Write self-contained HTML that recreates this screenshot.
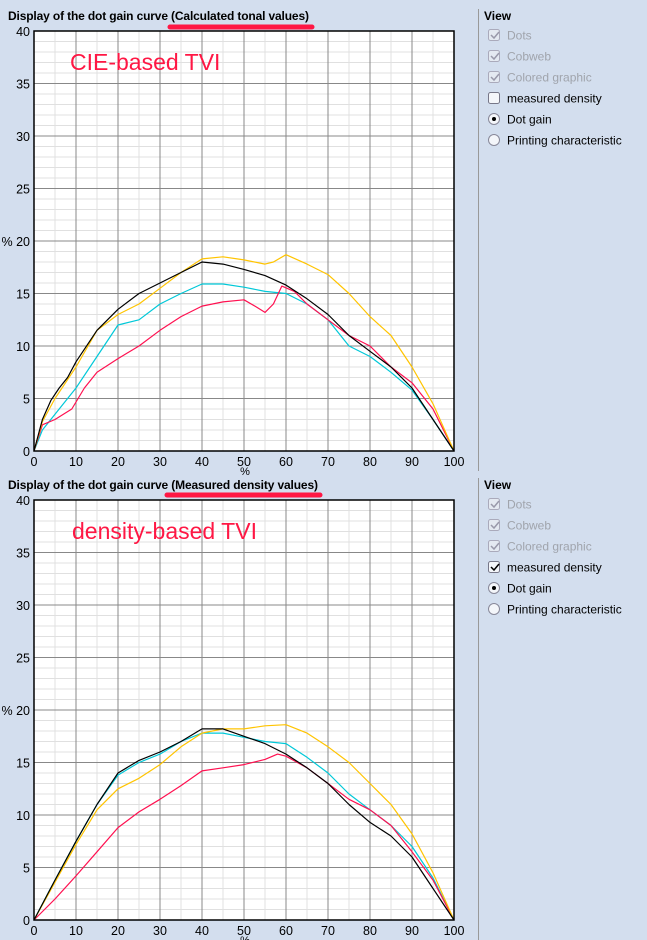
<!DOCTYPE html>
<html><head><meta charset="utf-8"><style>
body{margin:0;width:647px;height:940px;background:#d3deee;overflow:hidden;font-family:"Liberation Sans",Arial,sans-serif;}
svg{position:absolute;left:0;top:0}
</style></head><body>
<svg id="s" width="647" height="940" xmlns="http://www.w3.org/2000/svg" font-family="Liberation Sans, Arial, sans-serif"></svg>
<script>
const S=document.getElementById('s');
let h='';
function chart(top,title,tl,label,curves,checked){
  const L=34,R=454,T=top,B=top+420;
  h+=`<text x="8" y="${T-11}" font-size="12" font-weight="bold" fill="#000" textLength="${tl}">${title}</text>`;
  h+=`<rect x="${L}" y="${T}" width="420" height="420" fill="#fff"/>`;
  for(let i=1;i<40;i++){if(i%5)h+=`<line x1="${L}" x2="${R}" y1="${T+i*10.5}" y2="${T+i*10.5}" stroke="#e0e0e0"/>`;}
  for(let i=1;i<20;i++){if(i%2)h+=`<line y1="${T}" y2="${B}" x1="${L+i*21}" x2="${L+i*21}" stroke="#e0e0e0"/>`;}
  for(let i=1;i<8;i++)h+=`<line x1="${L}" x2="${R}" y1="${T+i*52.5}" y2="${T+i*52.5}" stroke="#888"/>`;
  for(let i=1;i<10;i++)h+=`<line y1="${T}" y2="${B}" x1="${L+i*42}" x2="${L+i*42}" stroke="#888"/>`;
  for(let i=0;i<=8;i++){let v=40-i*5;h+=`<text x="30" y="${T+i*52.5+5}" font-size="12.5" text-anchor="end">${v==20?'%\u00a020':v}</text>`;}
  for(let i=0;i<=10;i++)h+=`<text x="${L+i*42}" y="${B+15}" font-size="12.5" text-anchor="middle">${i*10}</text>`;
  h+=`<text x="245" y="${B+24}" font-size="11" text-anchor="middle">%</text>`;
  for(const [col,pts] of curves){
    let p=[];for(let k=0;k<pts.length;k+=2)p.push((L+pts[k]*4.2).toFixed(1)+','+(B-pts[k+1]*10.5).toFixed(1));
    h+=`<polyline points="${p.join(' ')}" fill="none" stroke="${col}" stroke-width="1.2" stroke-linejoin="round"/>`;
  }
  h+=`<rect x="${L}" y="${T}" width="420" height="420" fill="none" stroke="#000" stroke-width="1.5"/>`;
  h+=`<text x="${label[1]}" y="${T+39}" font-size="23" fill="#ff1744">${label[0]}</text>`;
  h+=`<line x1="478.5" x2="478.5" y1="${T-22}" y2="${T+440}" stroke="#999"/>`;
  h+=`<text x="484" y="${T-11}" font-size="12" font-weight="bold">View</text>`;
  const items=['Dots','Cobweb','Colored graphic','measured density','Dot gain','Printing characteristic'];
  items.forEach((t,i)=>{const y=T+4+i*21;const dis=i<3;
    if(i<4){h+=`<rect x="488.5" y="${y-5.5}" width="11" height="11" rx="2" fill="${dis?'#e4e9f1':'#f4f6fa'}" stroke="${dis?'#aab':'#778'}"/>`;
      if(i<3||checked)h+=`<path d="M491 ${y} l3 3 l5 -6" fill="none" stroke="${dis?'#99a':'#000'}" stroke-width="1.5"/>`;}
    else{h+=`<circle cx="494" cy="${y}" r="5.5" fill="#f4f6fa" stroke="#889"/>`;if(i==4)h+=`<circle cx="494" cy="${y}" r="2" fill="#000"/>`;}
    h+=`<text x="507" y="${y+4.5}" font-size="12" fill="${dis?'#a0a4ac':'#000'}">${t}</text>`;});
}
chart(31,'Display of the dot gain curve (Calculated tonal values)',301,['CIE-based TVI',70],[
 ['#00c8d8',[0,0,2,2,5,3.5,10,6,15,9,20,12,25,12.5,30,14,35,15,40,15.9,45,15.9,50,15.6,55,15.2,60,15,65,14,70,12.5,75,10,80,9,85,7.5,90,5.8,95,3,100,0]],
 ['#ff1050',[0,0,2,2.5,5,3,9,4,12,6,15,7.5,20,8.8,25,10,30,11.5,35,12.8,40,13.8,45,14.2,50,14.4,53,13.7,55,13.2,57,14,59,15.7,62,15.2,65,14,70,12.5,75,11,80,10,85,8,90,6.5,95,4,100,0]],
 ['#ffc400',[0,0,2,2.8,5,5,10,8,15,11.5,20,13,25,14,30,15.5,35,17,40,18.3,45,18.5,50,18.2,55,17.8,57,18,60,18.7,65,17.8,70,16.8,75,15,80,12.8,85,11,90,8,95,4.5,100,0]],
 ['#000',[0,0,2,3,4,4.8,6,6,8,7,10,8.5,15,11.5,20,13.5,25,15,30,16,35,17,40,18,45,17.8,50,17.3,55,16.7,60,15.8,65,14.5,70,13,75,11,80,9.5,85,8,90,6,95,3,100,0]]
],false);
chart(500,'Display of the dot gain curve (Measured density values)',310,['density-based TVI',72],[
 ['#00c8d8',[0,0,5,3.8,10,7.5,15,11,20,13.8,25,15,30,15.8,35,17,40,17.8,45,17.8,50,17.4,55,17,60,16.8,65,15.5,70,14,75,12,80,10.5,85,9,90,7,95,4,100,0]],
 ['#ff1050',[0,0,5,2,10,4.2,15,6.5,20,8.8,25,10.3,30,11.5,35,12.8,40,14.2,45,14.5,50,14.8,55,15.3,58,15.8,60,15.6,65,14.5,70,13,75,11.5,80,10.5,85,9,90,6.5,95,3.8,100,0]],
 ['#ffc400',[0,0,5,3.6,10,7.2,15,10.5,20,12.5,25,13.5,30,14.8,35,16.5,40,17.8,45,18.2,50,18.2,55,18.5,60,18.6,65,17.8,70,16.5,75,15,80,13,85,11,90,8.2,95,4.5,100,0]],
 ['#000',[0,0,5,3.8,10,7.5,15,11,20,14,25,15.2,30,16,35,17,40,18.2,45,18.2,50,17.5,55,16.8,60,15.8,65,14.5,70,13,75,11,80,9.3,85,8,90,6,95,3,100,0]]
],true);
h+=`<line x1="170" x2="312" y1="27" y2="27" stroke="#ff1744" stroke-width="5" stroke-linecap="round"/>`;
h+=`<line x1="167" x2="320" y1="495" y2="495" stroke="#ff1744" stroke-width="5" stroke-linecap="round"/>`;
S.innerHTML=h;
</script>
</body></html>
